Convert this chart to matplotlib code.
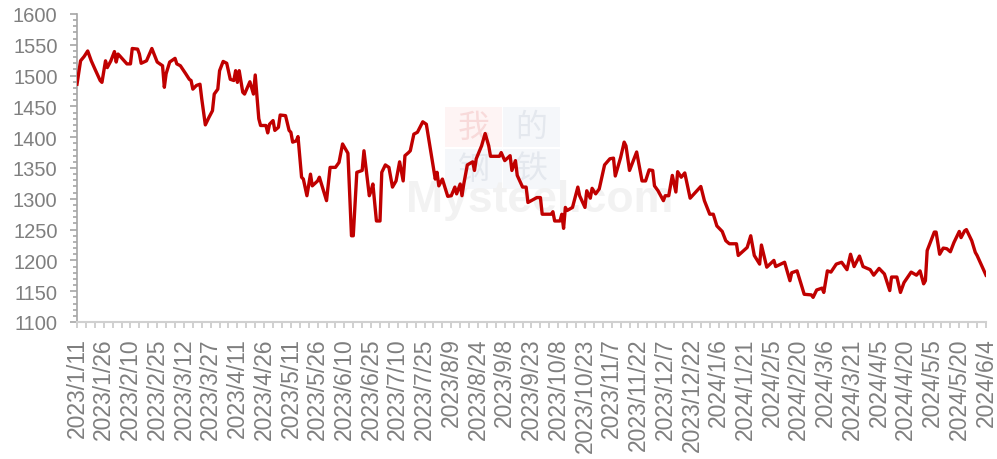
import matplotlib.pyplot as plt
import matplotlib.patches as mpatches
import numpy as np
import pandas as pd

# days since 2023/1/11
day_offset = [0, 2, 4, 6, 8, 10, 13, 14, 16, 17, 19, 21, 22, 23, 24, 28, 30, 31, 34, 35,
              36, 39, 42, 45, 48, 49, 50, 52, 55, 56, 58, 61, 63, 64, 65, 67, 69, 70, 72, 74,
              76, 77, 79, 80, 82, 84, 86, 88, 89, 90, 91, 93, 94, 97, 99, 100, 102, 103, 106, 107,
              108, 110, 111, 113, 114, 117, 119, 120, 121, 123, 124, 126, 127, 129, 131, 132, 135, 136, 140, 142,
              145, 147, 149, 150, 152, 154, 155, 157, 160, 161, 164, 165, 166, 168, 170, 171, 173, 175, 177, 179,
              181, 183, 184, 186, 187, 189, 191, 194, 196, 201, 202, 203, 205, 208, 210, 212, 213, 215, 216, 217,
              219, 222, 223, 224, 227, 229, 231, 232, 237, 238, 240, 243, 244, 246, 247, 250, 252, 253, 258, 260,
              261, 266, 267, 268, 271, 272, 273, 274, 275, 278, 281, 282, 285, 286, 288, 289, 291, 293, 296, 299,
              301, 302, 305, 307, 308, 310, 314, 317, 319, 321, 323, 324, 326, 329, 330, 332, 334, 336, 337, 339,
              341, 344, 350, 352, 355, 357, 359, 362, 364, 366, 370, 371, 376, 378, 380, 383, 384, 387, 391, 392,
              397, 400, 401, 404, 408, 412, 413, 415, 418, 419, 421, 423, 426, 429, 432, 434, 436, 439, 441, 445,
              447, 450, 453, 456, 457, 460, 462, 464, 468, 471, 473, 475, 476, 477, 481, 482, 484, 486, 488, 490,
              492, 495, 496, 498, 499, 502, 504, 505, 510]

price = [1486, 1524, 1531, 1540, 1524, 1511, 1492, 1489, 1524, 1513, 1524, 1539, 1522, 1535, 1532, 1519, 1519, 1544, 1543, 1535,
         1520, 1524, 1544, 1522, 1516, 1481, 1503, 1522, 1528, 1519, 1516, 1503, 1494, 1492, 1478, 1484, 1486, 1462, 1420, 1432,
         1443, 1470, 1478, 1508, 1523, 1520, 1494, 1492, 1508, 1489, 1508, 1473, 1470, 1490, 1470, 1501, 1430, 1419, 1419, 1407,
         1421, 1427, 1411, 1416, 1436, 1435, 1411, 1408, 1392, 1394, 1401, 1335, 1332, 1305, 1340, 1321, 1329, 1335, 1297, 1351,
         1351, 1359, 1389, 1384, 1374, 1240, 1240, 1343, 1346, 1378, 1305, 1313, 1324, 1264, 1264, 1343, 1355, 1351, 1319, 1329,
         1360, 1329, 1370, 1375, 1378, 1405, 1408, 1425, 1421, 1332, 1343, 1321, 1332, 1304, 1305, 1319, 1308, 1324, 1305, 1324,
         1355, 1360, 1346, 1365, 1386, 1406, 1386, 1369, 1369, 1375, 1362, 1370, 1346, 1362, 1338, 1319, 1319, 1294, 1302, 1302,
         1275, 1275, 1279, 1264, 1264, 1275, 1252, 1286, 1281, 1286, 1319, 1305, 1286, 1313, 1301, 1317, 1308, 1316, 1355, 1365,
         1366, 1337, 1367, 1392, 1386, 1346, 1376, 1329, 1329, 1347, 1346, 1321, 1313, 1297, 1305, 1305, 1338, 1311, 1344, 1335,
         1342, 1301, 1320, 1297, 1275, 1275, 1256, 1247, 1232, 1227, 1227, 1208, 1221, 1240, 1208, 1194, 1225, 1189, 1200, 1190,
         1197, 1167, 1180, 1183, 1145, 1144, 1140, 1152, 1155, 1148, 1183, 1181, 1194, 1197, 1185, 1210, 1190, 1207, 1190, 1185,
         1176, 1187, 1178, 1151, 1173, 1173, 1148, 1164, 1181, 1176, 1183, 1162, 1167, 1216, 1246, 1246, 1210, 1220, 1219, 1214,
         1229, 1247, 1237, 1248, 1250, 1232, 1213, 1208, 1176]

start = pd.Timestamp("2023-01-11")
end = pd.Timestamp("2024-06-04")
dates = start + pd.to_timedelta(day_offset, unit="D")
tick_dates = pd.date_range(start, end, freq="15D")
tick_labels = [f"{d.year}/{d.month}/{d.day}" for d in tick_dates]
y_ticks = np.arange(1100, 1601, 50)

grey_text = "#7F7F7F"

fig = plt.figure(figsize=(9.97, 4.60), dpi=100)
ax = fig.add_axes([77 / 997, 137 / 460, 909 / 997, 308 / 460])
ax.set_facecolor("none")

# faint watermark behind the line
def ax_xy(px, py):
    return (px - 77) / 909, (323 - py) / 308

boxes = [(445, 148, "我", "#FEF4F4", "#F8DADA"), (503, 148, "的", "#F5F7FA", "#E4E8EE"),
         (445, 190, "钢", "#F5F7FA", "#E4E8EE"), (503, 190, "铁", "#F5F7FA", "#E4E8EE")]
for px, py, ch, bg, fg in boxes:
    x0, y0 = ax_xy(px, py)
    ax.add_patch(mpatches.Rectangle((x0, y0), 57 / 909, 40 / 308, transform=ax.transAxes,
                                    facecolor=bg, edgecolor="none", zorder=0))
    ax.text(x0 + 28.5 / 909, y0 + 20 / 308, ch, transform=ax.transAxes, ha="center", va="center",
            fontsize=23, color=fg, family="Noto Sans CJK SC", zorder=0.5)
wx, wy = ax_xy(540, 212)
ax.text(wx, wy, "Mysteel.com", transform=ax.transAxes, ha="center", va="baseline",
        fontsize=32, fontweight="bold", color="#F2F2F2", family="Liberation Sans", zorder=0.4)

ax.plot(dates, price, color="#C00000", lw=2.4, solid_joinstyle="round", zorder=3)

ax.set_xlim(start, end)
ax.set_ylim(1100, 1600)
ax.set_yticks(y_ticks)
ax.set_yticklabels([str(v) for v in y_ticks])
ax.set_yticks(np.arange(1100, 1601, 10), minor=True)
ax.set_xticks(tick_dates)
ax.set_xticklabels(tick_labels, rotation=90, ha="center", va="top")
ax.set_xticks(pd.date_range(start, end, freq="5D"), minor=True)

for side in ["top", "right"]:
    ax.spines[side].set_visible(False)
ax.spines["left"].set_color("#A6A6A6")
ax.spines["left"].set_linewidth(1.2)
ax.spines["bottom"].set_color("#D0D0D0")
ax.spines["bottom"].set_linewidth(1.5)

ax.tick_params(axis="y", which="major", length=5, width=1.2, color="#A6A6A6", pad=9,
               labelsize=14.5, labelcolor=grey_text, labelfontfamily="Liberation Sans")
ax.tick_params(axis="y", which="minor", length=3, width=1.2, color="#A6A6A6")
ax.tick_params(axis="x", which="major", length=4, width=1.2, color="#C8C8C8", pad=7,
               labelsize=16.5, labelcolor=grey_text, labelfontfamily="Liberation Sans")
ax.tick_params(axis="x", which="minor", length=4, width=1.2, color="#C8C8C8")

fig.savefig("out.png", dpi=100)
